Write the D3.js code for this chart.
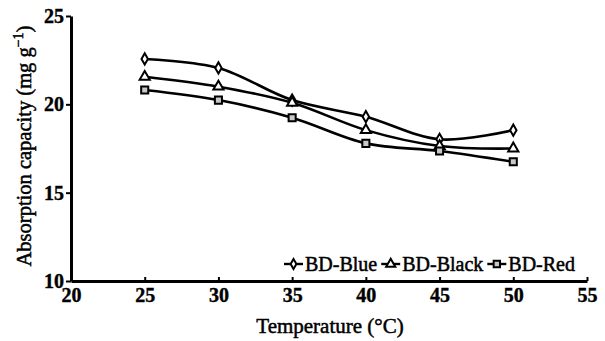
<!DOCTYPE html>
<html>
<head>
<meta charset="utf-8">
<script src="https://cdn.jsdelivr.net/npm/d3@7"></script>
<style>
	body { margin: 0; background: #fff; }
	svg text { font-family: "Liberation Serif", "Times New Roman", serif; fill: #000; }
</style>
</head>
<body>
<svg id="chart" width="605" height="341"></svg>
<script>
'use strict';

// temperatures (°C)
var temps = [25, 30, 35, 40, 45, 50];
// absorption capacity (mg g-1) per dye
var blue = [22.57, 22.06, 20.24, 19.30, 18.02, 18.54];
var black = [21.56, 21.00, 20.09, 18.54, 17.64, 17.50];
var red = [20.81, 20.24, 19.24, 17.79, 17.36, 16.75];

var xTicks = [20, 25, 30, 35, 40, 45, 50, 55];
var yTicks = [10, 15, 20, 25];

var series = [
	{ name : 'BD-Blue', values : blue, symbol : d3.symbolDiamond, size : 36, fill : '#fff' },
	{ name : 'BD-Black', values : black, symbol : d3.symbolTriangle, size : 45, fill : '#fff' },
	{ name : 'BD-Red', values : red, symbol : d3.symbolSquare, size : 50, fill : '#c8c8c8' }
];

var svg = d3.select('#chart');
var margin = { left : 71, right : 18, top : 16, bottom : 60 };
var width = 605 - margin.left - margin.right,
	height = 341 - margin.top - margin.bottom;

var x = d3.scaleLinear().domain([20, 55]).range([0, width]);
var y = d3.scaleLinear().domain([10, 25]).range([height, 0]);

var g = svg.append('g').attr('transform', 'translate(' + margin.left + ',' + margin.top + ')');

// axes
var xAxis = g.append('g')
	.attr('transform', 'translate(0,' + height + ')')
	.call(d3.axisBottom(x).tickValues(xTicks).tickSizeInner(-4).tickSizeOuter(0).tickPadding(7));
var yAxis = g.append('g')
	.call(d3.axisLeft(y).tickValues(yTicks).tickSizeInner(5).tickSizeOuter(0).tickPadding(2));

[xAxis, yAxis].forEach(function (a) {
	a.select('.domain').attr('stroke', '#000').attr('stroke-width', 3);
	a.selectAll('.tick line').attr('stroke', '#000').attr('stroke-width', 2);
	a.selectAll('.tick text')
		.attr('font-size', 20)
		.attr('font-weight', 'bold')
		.attr('stroke', '#000')
		.attr('stroke-width', 0.4)
		.attr('font-family', '"Liberation Serif", serif');
});

// lines
var line = d3.line()
	.x(function (d, i) { return x(temps[i]); })
	.y(function (d) { return y(d); })
	.curve(d3.curveCatmullRom.alpha(0.5));

series.forEach(function (s) {
	g.append('path')
		.attr('d', line(s.values))
		.attr('fill', 'none')
		.attr('stroke', '#000')
		.attr('stroke-width', 2.6);
});

series.forEach(function (s) {
	g.selectAll(null)
		.data(s.values)
		.enter()
		.append('path')
		.attr('transform', function (d, i) { return 'translate(' + x(temps[i]) + ',' + y(d) + ')'; })
		.attr('d', d3.symbol().type(s.symbol).size(s.size))
		.attr('fill', s.fill)
		.attr('stroke', '#000')
		.attr('stroke-width', 2);
});

// legend, laid out left to right from its start
var legend = svg.append('g').attr('transform', 'translate(0,264)');
var cursor = 284;
series.forEach(function (s) {
	var lg = legend.append('g').attr('transform', 'translate(' + cursor + ',0)');
	lg.append('line').attr('x1', 0).attr('x2', 19).attr('stroke', '#000').attr('stroke-width', 2.4);
	lg.append('path')
		.attr('transform', 'translate(9.5,0)')
		.attr('d', d3.symbol().type(s.symbol).size(s.size * 0.8))
		.attr('fill', s.fill)
		.attr('stroke', '#000')
		.attr('stroke-width', 2);
	var t = lg.append('text')
		.attr('x', 21)
		.attr('dy', '0.35em')
		.attr('font-size', 20)
		.attr('stroke', '#000')
		.attr('stroke-width', 0.5)
		.text(s.name);
	cursor += 21 + t.node().getComputedTextLength() + 4;
});

// axis titles
svg.append('text')
	.attr('x', 330)
	.attr('y', 333)
	.attr('text-anchor', 'middle')
	.attr('font-size', 21)
	.attr('stroke', '#000')
	.attr('stroke-width', 0.5)
	.text('Temperature (°C)');

var yt = svg.append('text')
	.attr('transform', 'translate(31,146) rotate(-90)')
	.attr('text-anchor', 'middle')
	.attr('font-size', 20.5)
	.attr('stroke', '#000')
	.attr('stroke-width', 0.5);
yt.append('tspan').text('Absorption capacity (mg g');
yt.append('tspan').attr('dy', -8).attr('font-size', 14).text('\u22121');
yt.append('tspan').attr('dy', 8).text(')');
</script>
</body>
</html>
